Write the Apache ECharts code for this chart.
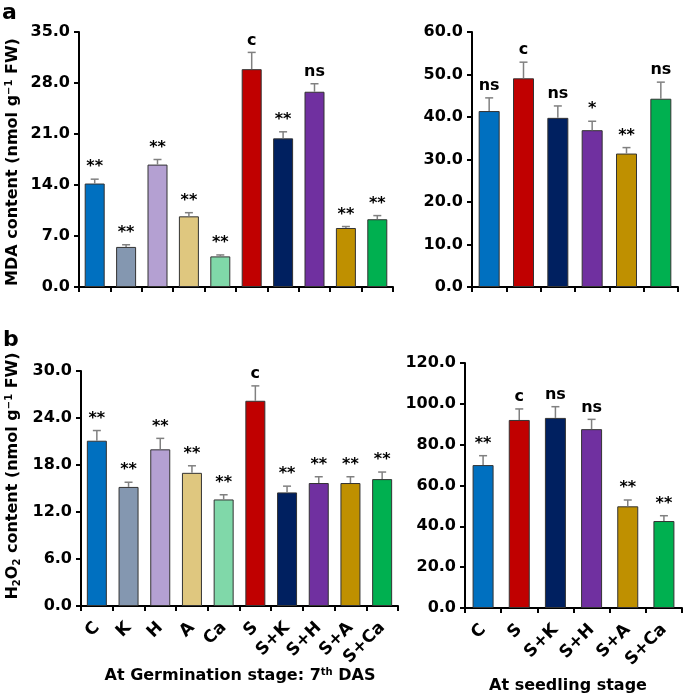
<!DOCTYPE html>
<html>
<head>
<meta charset="utf-8">
<script src="https://cdn.jsdelivr.net/npm/echarts@6/dist/echarts.min.js"></script>
<style>
html,body{margin:0;padding:0;background:#fff;}
#chart{width:685px;height:697px;}
</style>
</head>
<body>
<div id="chart"></div>
<script>
// ---------- data ----------
const germCats = ['C','K','H','A','Ca','S','S+K','S+H','S+A','S+Ca'];
const seedCats = ['C','S','S+K','S+H','S+A','S+Ca'];

const germColors = ['#0070C0','#8497B0','#B4A0D2','#DFC77F','#80D8A9','#C00000','#002060','#7030A0','#BF9000','#00B050'];
const seedColors = ['#0070C0','#C00000','#002060','#7030A0','#BF9000','#00B050'];

const mdaGerm    = [14.2, 5.5, 16.8, 9.7, 4.2, 29.9, 20.4, 26.8, 8.1, 9.3];
const mdaGermErr = [0.6, 0.3, 0.7, 0.5, 0.2, 2.3, 0.9, 1.1, 0.2, 0.5];
const mdaGermSig = ['**','**','**','**','**','c','**','ns','**','**'];

const mdaSeed    = [41.4, 49.1, 39.8, 36.9, 31.4, 44.3];
const mdaSeedErr = [3.1, 3.8, 2.8, 2.1, 1.4, 3.9];
const mdaSeedSig = ['ns','c','ns','*','**','ns'];

const h2o2Germ    = [21.1, 15.2, 20.0, 17.0, 13.6, 26.2, 14.5, 15.7, 15.7, 16.2];
const h2o2GermErr = [1.3, 0.6, 1.4, 0.9, 0.6, 1.9, 0.8, 0.8, 0.8, 0.9];
const h2o2GermSig = ['**','**','**','**','**','c','**','**','**','**'];

const h2o2Seed    = [70.0, 92.1, 93.1, 87.6, 49.8, 42.6];
const h2o2SeedErr = [4.6, 5.4, 5.5, 4.8, 3.1, 2.6];
const h2o2SeedSig = ['**','c','ns','ns','**','**'];

const mdaGermTicks  = [0, 7, 14, 21, 28, 35];
const mdaSeedTicks  = [0, 10, 20, 30, 40, 50, 60];
const h2o2GermTicks = [0, 6, 12, 18, 24, 30];
const h2o2SeedTicks = [0, 20, 40, 60, 80, 100, 120];

// ---------- styling ----------
const FONT = '"DejaVu Sans", "Liberation Sans", Arial, sans-serif';
const AX = '#000';

const grids = [
  {left: 79,  top: 32,  width: 314, height: 255},
  {left: 472, top: 32,  width: 206, height: 255},
  {left: 81,  top: 371, width: 317, height: 235},
  {left: 465, top: 363, width: 217, height: 245}
];

function xAxisFor(gi, cats) {
  return {
    type: 'category', gridIndex: gi, data: cats,
    axisLine: {lineStyle: {color: AX, width: 2}},
    axisTick: {show: true, length: 5, lineStyle: {color: AX, width: 2}},
    axisLabel: {show: gi >= 2, rotate: 45, interval: 0, margin: 19,
      fontFamily: FONT, fontWeight: 'bold', fontSize: 17, color: '#000'},
    splitLine: {show: false}
  };
}
function yAxisFor(gi, ticks) {
  return {
    type: 'value', gridIndex: gi,
    min: ticks[0], max: ticks[ticks.length - 1], interval: ticks[1] - ticks[0],
    axisLine: {show: true, lineStyle: {color: AX, width: 2}},
    axisTick: {show: true, length: 5, lineStyle: {color: AX, width: 2}},
    axisLabel: {margin: 9, fontFamily: FONT, fontWeight: 'bold', fontSize: 16, color: '#000',
      formatter: v => v.toFixed(1)},
    splitLine: {show: false}
  };
}
function barSeries(gi, vals, colors, bw) {
  return {
    type: 'bar', xAxisIndex: gi, yAxisIndex: gi, barWidth: bw,
    data: vals.map((v, i) => ({value: v, itemStyle: {color: colors[i]}})),
    itemStyle: {borderColor: '#333', borderWidth: 1},
    silent: true, animation: false
  };
}
function errSeries(gi, vals, errs, sigs) {
  return {
    type: 'custom', xAxisIndex: gi, yAxisIndex: gi, silent: true, animation: false, z: 5,
    data: vals.map((v, i) => [i, v, errs[i]]),
    renderItem: function (params, api) {
      const i = api.value(0), m = api.value(1), e = api.value(2);
      const base = api.coord([i, m]);
      const top = api.coord([i, m + e]);
      const cap = 4;
      const lineStyle = {stroke: '#808080', lineWidth: 1.5};
      return {
        type: 'group',
        children: [
          {type: 'line', shape: {x1: base[0], y1: base[1], x2: top[0], y2: top[1]}, style: lineStyle},
          {type: 'line', shape: {x1: top[0] - cap, y1: top[1], x2: top[0] + cap, y2: top[1]}, style: lineStyle},
          {type: 'text', style: {
            text: sigs[params.dataIndex], x: top[0], y: top[1] - 4,
            align: 'center', verticalAlign: 'bottom',
            font: 'bold 16px ' + FONT, fill: '#000'}}
        ]
      };
    }
  };
}

const richY = {
  m: {fontFamily: FONT, fontWeight: 'bold', fontSize: 16, lineHeight: 18, color: '#000'},
  sup: {fontFamily: FONT, fontWeight: 'bold', fontSize: 10, lineHeight: 18, verticalAlign: 'top', color: '#000'},
  sub: {fontFamily: FONT, fontWeight: 'bold', fontSize: 10, lineHeight: 12, verticalAlign: 'bottom', color: '#000'}
};

const option = {
  backgroundColor: '#fff',
  animation: false,
  grid: grids.map(g => Object.assign({containLabel: false}, g)),
  xAxis: [xAxisFor(0, germCats), xAxisFor(1, seedCats), xAxisFor(2, germCats), xAxisFor(3, seedCats)],
  yAxis: [yAxisFor(0, mdaGermTicks), yAxisFor(1, mdaSeedTicks), yAxisFor(2, h2o2GermTicks), yAxisFor(3, h2o2SeedTicks)],
  series: [
    barSeries(0, mdaGerm, germColors, 20), errSeries(0, mdaGerm, mdaGermErr, mdaGermSig),
    barSeries(1, mdaSeed, seedColors, 21), errSeries(1, mdaSeed, mdaSeedErr, mdaSeedSig),
    barSeries(2, h2o2Germ, germColors, 20), errSeries(2, h2o2Germ, h2o2GermErr, h2o2GermSig),
    barSeries(3, h2o2Seed, seedColors, 21), errSeries(3, h2o2Seed, h2o2SeedErr, h2o2SeedSig)
  ],
  graphic: [
    {type: 'text', left: 2, top: 2, style: {text: 'a', font: 'bold 22px ' + FONT, fill: '#000'}},
    {type: 'text', left: 3, top: 329, style: {text: 'b', font: 'bold 22px ' + FONT, fill: '#000'}},
    {type: 'text', x: 13, y: 162, rotation: Math.PI / 2,
      style: {text: '{m|MDA content (nmol g}{sup|−1}{m| FW)}', rich: richY,
        align: 'center', verticalAlign: 'middle'}},
    {type: 'text', x: 13, y: 476, rotation: Math.PI / 2,
      style: {text: '{m|H}{sub|2}{m|O}{sub|2}{m| content (nmol g}{sup|−1}{m| FW)}', rich: richY,
        align: 'center', verticalAlign: 'middle'}},
    {type: 'text', x: 240, y: 676,
      style: {text: '{m|At Germination stage: 7}{sup|th}{m| DAS}', rich: richY,
        align: 'center', verticalAlign: 'middle'}},
    {type: 'text', x: 568, y: 686,
      style: {text: '{m|At seedling stage}', rich: richY, align: 'center', verticalAlign: 'middle'}}
  ]
};

const chart = echarts.init(document.getElementById('chart'), null, {renderer: 'canvas'});
chart.setOption(option);
</script>
</body>
</html>
